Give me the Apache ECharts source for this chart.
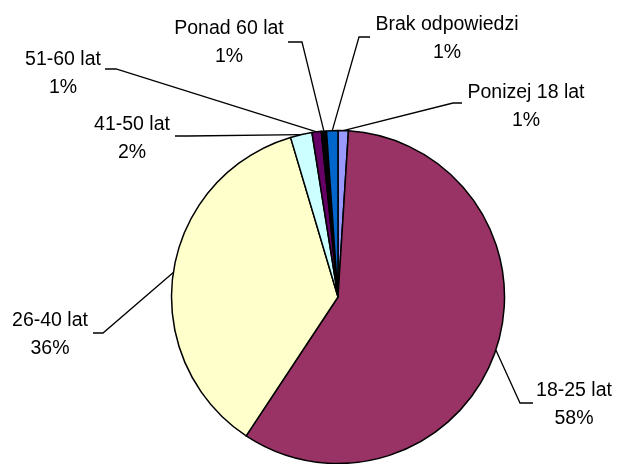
<!DOCTYPE html>
<html>
<head>
<meta charset="utf-8">
<script src="https://cdn.jsdelivr.net/npm/echarts@6/dist/echarts.min.js"></script>
<style>
    body { margin: 0; background: #fff; }
    #pieChart { width: 617px; height: 464px; }
</style>
</head>
<body>
<div id="pieChart"></div>
<script>
var categories = ['Ponizej 18 lat', '18-25 lat', '26-40 lat', '41-50 lat', '51-60 lat', 'Ponad 60 lat', 'Brak odpowiedzi'];
var values = [1.0, 58.3, 36.1, 2.1, 0.9, 0.5, 1.1];
// the Ponad 60 slice is so thin that only its black borders show
var colors = ['#9999FF', '#993366', '#FFFFCC', '#CCFFFF', '#660066', '#000000', '#0066CC'];

// where each label sits and where its leader line bends (Excel put them by hand)
var labelPos = [
    {x: 526, y: 107, bend: [[453, 103], [462, 103]]},
    {x: 574, y: 405, bend: [[520, 403], [533, 403]]},
    {x: 50, y: 335, bend: [[103, 333], [93, 333]]},
    {x: 132, y: 139, bend: [[188, 136], [175, 136]]},
    {x: 63, y: 74, bend: [[116, 69], [105, 69]]},
    {x: 229, y: 43, bend: [[302, 42], [288, 42]]},
    {x: 447, y: 39, bend: [[359, 37], [370, 37]]}
];

var pieData = [];
for (var i = 0; i < categories.length; i++) {
    pieData.push({name: categories[i], value: values[i], itemStyle: {color: colors[i]}});
}

var option = {
    backgroundColor: '#fff',
    animation: false,
    series: [
        {
            type: 'pie',
            center: [338, 297],
            radius: [0, 166.5],
            startAngle: 90,
            clockwise: true,
            avoidLabelOverlap: false,
            itemStyle: {
                borderColor: '#000',
                borderWidth: 1.5
            },
            label: {
                show: true,
                color: '#000',
                fontFamily: 'Liberation Sans, Arial, sans-serif',
                fontSize: 19.5,
                lineHeight: 28,
                align: 'center',
                formatter: function (p) {
                    return p.name + '\n' + Math.round(p.percent) + '%';
                }
            },
            labelLine: {
                show: true,
                smooth: false,
                lineStyle: {color: '#000', width: 1.3}
            },
            labelLayout: function (params) {
                var pos = labelPos[params.dataIndex];
                var start = params.labelLinePoints ? params.labelLinePoints[0] : pos.bend[0];
                return {
                    x: pos.x,
                    y: pos.y,
                    align: 'center',
                    verticalAlign: 'middle',
                    labelLinePoints: [start, pos.bend[0], pos.bend[1]]
                };
            },
            emphasis: {disabled: true},
            data: pieData
        }
    ]
};

var pieChart = echarts.init(document.getElementById('pieChart'));
pieChart.setOption(option);
</script>
</body>
</html>
